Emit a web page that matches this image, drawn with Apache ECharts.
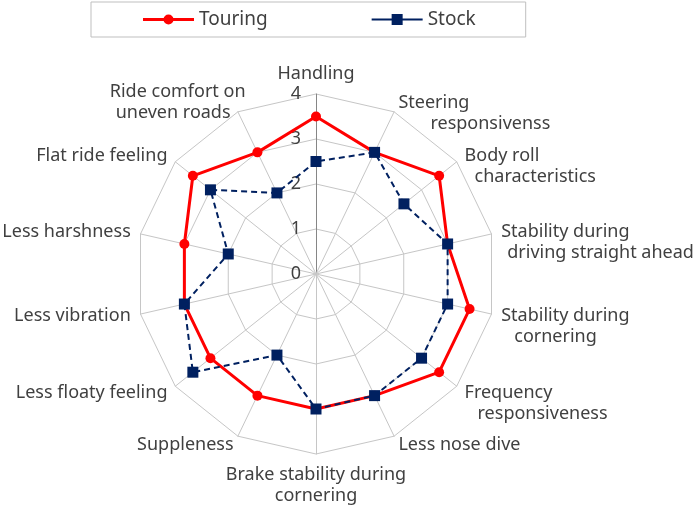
<!DOCTYPE html>
<html><head><meta charset="utf-8">
<script src="https://cdn.jsdelivr.net/npm/echarts@6/dist/echarts.min.js"></script>
<style>html,body{margin:0;padding:0;background:#fff}#c{width:700px;height:513px}</style>
</head><body><div id="c"></div>
<script>
// ---- data (clockwise from top) ----
const categories = [
  'Handling',
  'Steering\nresponsivenss',
  'Body roll\ncharacteristics',
  'Stability during\ndriving straight ahead',
  'Stability during\ncornering',
  'Frequency\nresponsiveness',
  'Less nose dive',
  'Brake stability during\ncornering',
  'Suppleness',
  'Less floaty feeling',
  'Less vibration',
  'Less harshness',
  'Flat ride feeling',
  'Ride comfort on\nuneven roads'
];
const touring = [3.5, 3, 3.5, 3, 3.5, 3.5, 3, 3, 3, 3, 3, 3, 3.5, 3];
const stock   = [2.5, 3, 2.5, 3, 3, 3, 3, 3, 2, 3.5, 3, 2, 3, 2];
const seriesNames = ['Touring', 'Stock'];
const axisMin = 0, axisMax = 4;

// ---- label layout (style only) ----
const leadBlank = [false,true,true,true,true,true,false,false,false,false,false,false,false,false];
const line2Left = [0,32,10,6,13,13,0,0,0,0,0,0,0,0];
const line1Right = [0,0,0,0,0,0,0,0,0,0,0,0,0,-12];
const line2Right = [0,0,0,0,0,0,0,0,0,0,0,0,0,3];

const FONT = "'Noto Sans', sans-serif";
const TXT = '#404040';
const RED = '#ff0000';
const NAVY = '#002060';

// ECharts radar runs counter-clockwise; reorder so categories read clockwise
const order = categories.map((c, i) => (i === 0 ? 0 : categories.length - i));
const pick = arr => order.map(k => arr[k]);

const rich = { e: { fontSize: 18, lineHeight: 21, fontFamily: FONT, color: TXT } };
categories.forEach((c, i) => {
  rich['a' + i] = { fontSize: 18, lineHeight: 21, fontFamily: FONT, color: TXT, padding: [0, line1Right[i], 0, 0] };
  rich['b' + i] = { fontSize: 18, lineHeight: 21, fontFamily: FONT, color: TXT, padding: [0, line2Right[i], 0, line2Left[i]] };
});

const indicators = order.map((k, pos) => {
  const ind = { name: categories[k], min: axisMin, max: axisMax };
  if (pos === 0) {
    ind.axisLabel = { show: true, fontSize: 18, color: TXT, fontFamily: FONT, margin: 15 };
    ind.axisLine = { lineStyle: { color: '#868686' } };
  }
  return ind;
});

const chart = echarts.init(document.getElementById('c'), null, { renderer: 'canvas' });
chart.setOption({
  animation: false,
  backgroundColor: '#fff',
  legend: {
    data: [
      { name: seriesNames[0], icon: 'path://M0,4 L51,4 L51,7 L0,7 Z M20.5,5.5 A5,5 0 1 1 30.5,5.5 A5,5 0 1 1 20.5,5.5 Z', itemStyle: { color: RED } },
      { name: seriesNames[1], icon: 'path://M0,4.5 L51,4.5 L51,6.5 L0,6.5 Z M20,0 L31,0 L31,11 L20,11 Z', itemStyle: { color: NAVY } }
    ],
    left: 91, top: 2,
    padding: [8, 50, 8, 52],
    itemWidth: 51, itemHeight: 11, itemGap: 104,
    borderColor: '#bfbfbf', borderWidth: 1,
    textStyle: { fontSize: 19, color: TXT, fontFamily: FONT }
  },
  radar: {
    center: [316, 274],
    radius: 180,
    startAngle: 90,
    shape: 'polygon',
    splitNumber: 4,
    indicator: indicators,
    nameGap: 10,
    axisName: {
      color: TXT, fontSize: 18, fontFamily: FONT,
      formatter: function (name) {
        const i = categories.indexOf(name);
        let out = name.split('\n').map((ln, k) => '{' + (k === 0 ? 'a' : 'b') + i + '|' + ln + '}').join('\n');
        if (leadBlank[i]) out = '{e| }\n' + out;
        return out;
      },
      rich: rich
    },
    axisLine: { lineStyle: { color: '#c6c6c6', width: 1 } },
    splitLine: { lineStyle: { color: '#c6c6c6', width: 1 } },
    splitArea: { show: false },
    axisTick: { show: false },
    axisLabel: { show: false }
  },
  series: [{
    type: 'radar',
    data: [
      {
        name: seriesNames[0], value: pick(touring),
        symbol: 'circle', symbolSize: 10,
        itemStyle: { color: RED },
        lineStyle: { color: RED, width: 3, type: 'solid' }
      },
      {
        name: seriesNames[1], value: pick(stock),
        symbol: 'rect', symbolSize: 11,
        itemStyle: { color: NAVY },
        lineStyle: { color: NAVY, width: 2, type: [6, 4] }
      }
    ]
  }]
});
</script></body></html>
